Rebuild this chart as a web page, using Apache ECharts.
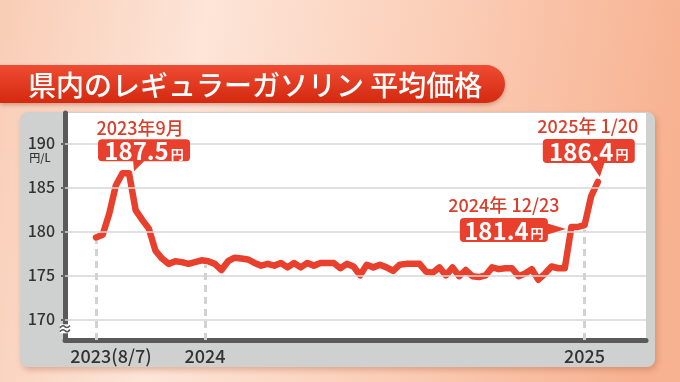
<!DOCTYPE html>
<html><head><meta charset="utf-8">
<script src="https://cdn.jsdelivr.net/npm/echarts@6/dist/echarts.min.js"></script>
<style>html,body{margin:0;padding:0;background:#fbd9c8;}#c{width:680px;height:382px;}</style>
</head><body><div id="c"></div>
<script>
// Weekly average regular gasoline price (円/L), 2023-08-07 … 2025-01-20
const prices = [
  179.3, 179.6, 182.0, 185.2, 186.6, 186.6, 182.4, 181.3, 180.3, 177.8,
  176.9, 176.3, 176.6, 176.5, 176.3, 176.5, 176.7, 176.6, 176.3, 175.6,
  176.6, 177.0, 176.9, 176.8, 176.4, 176.1, 176.3, 176.1, 176.4, 175.9,
  176.4, 175.9, 176.4, 176.1, 176.4, 176.4, 176.4, 175.8, 176.3, 176.0,
  175.0, 176.2, 175.9, 176.2, 175.9, 175.5, 176.2, 176.3, 176.3, 176.3,
  175.4, 175.3, 175.9, 175.0, 175.9, 174.9, 175.6, 174.9, 174.8, 175.0,
  175.9, 175.7, 175.8, 175.8, 174.9, 175.2, 175.7, 174.5, 175.2, 176.0,
  175.8, 175.8, 180.5, 180.5, 180.7, 184.0, 185.6
];
const yTicks = [170, 175, 180, 185, 190];
const xTickPositions = [0, 16.5, 74];
const xTickLabels = ['2023(8/7)', '2024', '2025'];
const dashTops = [178.9, 176.2, 180.2];
const callouts = [
  {idx: 5,  year: '2023年9月',   value: '187.5'},
  {idx: 72, year: '2024年 12/23', value: '181.4'},
  {idx: 76, year: '2025年 1/20',  value: '186.4'}
];
const title = '県内のレギュラーガソリン 平均価格';

const Y_MIN = 167.65, Y_MAX = 193.44;
const FONT = '"Noto Sans CJK JP","Noto Sans",sans-serif';
const RED = '#e8402d';

const chart = echarts.init(document.getElementById('c'), null, {renderer: 'canvas'});
const lineData = prices.map((v, i) => [i, v]);

const bgGraphics = [
  {type: 'rect', z: -30, shape: {x: 0, y: 0, width: 680, height: 382},
   style: {fill: new echarts.graphic.LinearGradient(0, 0, 1, 0.3, [
     {offset: 0, color: '#f9cdb6'}, {offset: 0.3, color: '#fde5d8'},
     {offset: 0.65, color: '#fbcdb6'}, {offset: 1, color: '#f7b291'}])}},
  {type: 'rect', z: -20, shape: {x: 20, y: 112, width: 635, height: 255, r: 8},
   style: {fill: '#cfd1d0', shadowBlur: 6, shadowOffsetX: 2, shadowOffsetY: 3, shadowColor: 'rgba(160,80,50,0.35)'}},
  {type: 'rect', z: -20, shape: {x: 0, y: 65, width: 505, height: 38, r: [0, 19, 19, 0]},
   style: {fill: new echarts.graphic.LinearGradient(0, 0, 0, 1, [
     {offset: 0, color: '#ee4c33'}, {offset: 1, color: '#d3290f'}]),
     shadowBlur: 4, shadowOffsetY: 2, shadowColor: 'rgba(140,40,20,0.35)'}},
  {type: 'text', z: -19, x: 28, y: 85,
   style: {text: title, fill: '#ffffff', font: '500 28px ' + FONT, verticalAlign: 'middle', align: 'left'}},
  {type: 'text', z: 50, x: 40, y: 158,
   style: {text: '円/L', fill: '#333', font: '500 11px ' + FONT, align: 'center', verticalAlign: 'middle'}}
];

chart.setOption({
  animation: false,
  grid: {left: 65, right: 34, top: 113, bottom: 42, show: true, backgroundColor: '#ffffff', borderWidth: 0},
  xAxis: {
    type: 'value', min: -4.7, max: 83.3,
    axisLine: {show: true, onZero: false, lineStyle: {color: '#5a5a5a', width: 5}},
    axisTick: {show: false}, splitLine: {show: false},
    axisLabel: {
      customValues: xTickPositions, margin: 7, color: '#333',
      fontFamily: FONT, fontSize: 18, fontWeight: 500,
      formatter: (v) => {
        const k = xTickPositions.indexOf(v);
        if (k === 0) return '{s|' + xTickLabels[0] + '}';
        return k >= 0 ? xTickLabels[k] : '';
      },
      rich: {s: {padding: [0, 0, 0, 30], fontSize: 18, fontWeight: 500, fontFamily: FONT, color: '#333'}}
    }
  },
  yAxis: {
    type: 'value', min: Y_MIN, max: Y_MAX,
    axisLine: {show: true, onZero: false, lineStyle: {color: '#5a5a5a', width: 5}},
    axisTick: {show: true, customValues: yTicks, length: 4, lineStyle: {color: '#666', width: 2}},
    splitLine: {show: false},
    axisLabel: {customValues: yTicks, margin: 10, color: '#333', fontFamily: FONT, fontSize: 16, fontWeight: 500}
  },
  graphic: bgGraphics,
  series: [
    {
      type: 'line', z: 1, data: [], silent: true,
      markLine: {
        silent: true, symbol: 'none', animation: false, label: {show: false},
        data: yTicks.map(v => ({yAxis: v, lineStyle: {color: '#d6d6d6', width: 1.5, type: 'solid'}}))
          .concat(xTickPositions.map((p, k) => ([
            {coord: [p, Y_MIN], lineStyle: {color: '#d2d2d2', width: 3, type: [7, 5]}},
            {coord: [p, dashTops[k]]}
          ])))
      }
    },
    {
      type: 'line', z: 3, data: lineData, showSymbol: false, symbol: 'none',
      lineStyle: {color: RED, width: 6.5, cap: 'round', join: 'round'}
    }
  ]
});

// callouts anchored to data points
const px = (i) => chart.convertToPixel({gridIndex: 0}, [i, prices[i]]);
const layout = [
  {box: [-31, -34, 92, 22], year: [11, -45], ptr: [[4, -13], [16, -13], [5, -2]]},
  {box: [-111.5, -9, 88, 24], year: [-67.5, -22], ptr: [[-25.5, -4], [-25.5, 8], [-5.5, 2]]},
  {box: [-55, -43, 92, 24], year: [-10, -56], ptr: [[-8, -20], [7, -20], [2, -5]]}
];
const fg = [];
callouts.forEach((c, k) => {
  const [ax, ay] = px(c.idx);
  const L = layout[k];
  const [bx, by, bw, bh] = L.box;
  fg.push({type: 'polygon', z: 100, shape: {points: L.ptr.map(p => [ax + p[0], ay + p[1]])}, style: {fill: RED}});
  fg.push({type: 'rect', z: 101, shape: {x: ax + bx, y: ay + by, width: bw, height: bh, r: 4}, style: {fill: RED}});
  fg.push({type: 'text', z: 102, x: ax + bx + bw / 2, y: ay + by + bh / 2 + 1,
    style: {text: '{a|' + c.value + '}{b|円}', align: 'center', verticalAlign: 'middle',
      rich: {a: {fill: '#fff', fontFamily: FONT, fontSize: 24, fontWeight: 'bold'},
             b: {fill: '#fff', fontFamily: FONT, fontSize: 13, fontWeight: 'bold', padding: [5, 0, 0, 2]}}}});
  fg.push({type: 'text', z: 102, x: ax + L.year[0], y: ay + L.year[1],
    style: {text: c.year, fill: '#d8402b', font: '500 18px ' + FONT, align: 'center', verticalAlign: 'middle'}});
});
// axis break mark
const [, y170] = chart.convertToPixel({gridIndex: 0}, [0, 170]);
fg.push({type: 'rect', z: 100, shape: {x: 60, y: y170 + 5, width: 10, height: 9}, style: {fill: '#ffffff'}});
fg.push({type: 'text', z: 101, x: 65, y: y170 + 9, style: {text: '≈', fill: '#555', font: 'bold 15px ' + FONT, align: 'center', verticalAlign: 'middle'}});

chart.setOption({graphic: bgGraphics.concat(fg)});
</script>
</body></html>
